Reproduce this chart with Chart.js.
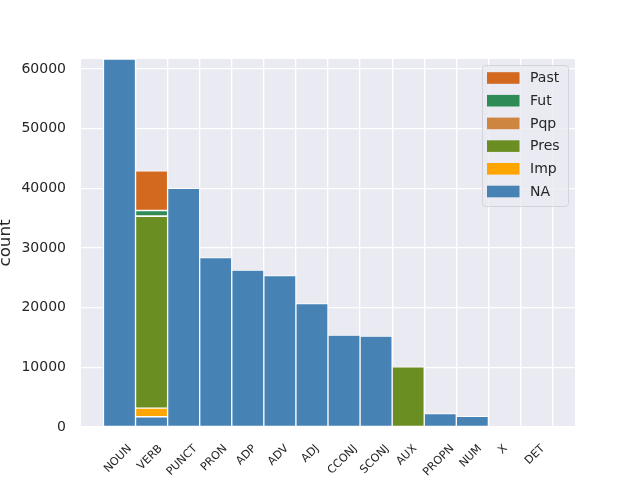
<!DOCTYPE html>
<html>
<head>
<meta charset="utf-8">
<script src="https://cdn.jsdelivr.net/npm/chart.js@4"></script>
<style>
  html, body { margin: 0; padding: 0; background: #fff; }
  canvas { display: block; }
</style>
</head>
<body>
<canvas id="myChart" width="640" height="480"></canvas>
<script>
const categories = ['NOUN','VERB','PUNCT','PRON','ADP','ADV','ADJ','CCONJ','SCONJ','AUX','PROPN','NUM','X','DET'];
const yTicks = [0,10000,20000,30000,40000,50000,60000];
const yMax = 61700;

// stacking order, bottom to top
const naCounts   = [61700,1725,40000,28420,26300,25400,20700,15420,15260,null,2250,1780,null,null];
const impCounts  = [null,1430,null,null,null,null,null,null,null,null,null,null,null,null];
const presCounts = [null,32185,null,null,null,null,null,null,null,10100,null,null,null,null];
const pqpCounts  = [null,60,null,null,null,null,null,null,null,null,null,null,null,null];
const futCounts  = [null,900,null,null,null,null,null,null,null,null,null,null,null,null];
const pastCounts = [null,6630,null,null,null,null,null,null,null,null,null,null,null,null];

const seriesNames  = ['NA','Imp','Pres','Pqp','Fut','Past'];
const seriesValues = [naCounts,impCounts,presCounts,pqpCounts,futCounts,pastCounts];
const seriesColors = ['#4682B4','#FFA500','#6B8E23','#CD853F','#2E8B57','#D2691E'];

const textColor = '#262626';
const fontFamily = "'DejaVu Sans', sans-serif";

const datasets = seriesNames.map((name,k)=>({
  label: name,
  data: seriesValues[k].map((v,i)=>({x:i, y:v})),
  backgroundColor: seriesColors[k],
  borderColor: '#ffffff',
  borderWidth: 1,
  borderSkipped: false,
  barPercentage: 1,
  categoryPercentage: 1
}));

const bgPlugin = {
  id: 'bg',
  beforeDraw(chart){
    const {ctx, chartArea:a} = chart;
    ctx.save();
    ctx.fillStyle = '#ffffff';
    ctx.fillRect(0,0,chart.width,chart.height);
    ctx.fillStyle = '#EAEAF2';
    ctx.fillRect(a.left,a.top,a.right-a.left,a.bottom-a.top);
    ctx.restore();
  }
};

const labelPlugin = {
  id: 'labels',
  afterDraw(chart){
    const {ctx, chartArea:a} = chart;
    const xs = chart.scales.x;
    ctx.save();
    // rotated category labels, centred under each bar
    ctx.font = '11.2px ' + fontFamily;
    ctx.fillStyle = textColor;
    ctx.textAlign = 'center';
    ctx.textBaseline = 'middle';
    const top = a.bottom + 16;
    categories.forEach((c,i)=>{
      const w = ctx.measureText(c).width;
      const h = 11;
      const cx = xs.getPixelForValue(i) - 1.5;
      const cy = top + (w+h)*Math.SQRT1_2/2;
      ctx.save();
      ctx.translate(cx,cy);
      ctx.rotate(-Math.PI/4);
      ctx.fillText(c,0,0);
      ctx.restore();
    });
    // y label
    ctx.save();
    ctx.font = '16.7px ' + fontFamily;
    ctx.textAlign = 'center';
    ctx.textBaseline = 'alphabetic';
    ctx.translate(10,(a.top+a.bottom)/2);
    ctx.rotate(-Math.PI/2);
    ctx.fillText('count',0,0);
    ctx.restore();
    // legend
    const order = [5,4,3,2,1,0];
    const lx = 482, ly = 65, lw = 86, lh = 141;
    ctx.fillStyle = 'rgba(234,234,242,0.8)';
    ctx.strokeStyle = '#d3d3dc';
    ctx.lineWidth = 1;
    ctx.beginPath();
    ctx.roundRect(lx+0.5,ly+0.5,lw,lh,3);
    ctx.fill();
    ctx.stroke();
    ctx.font = '14px ' + fontFamily;
    ctx.textAlign = 'left';
    ctx.textBaseline = 'middle';
    order.forEach((k,r)=>{
      const cy = 78 + r*22.7;
      ctx.fillStyle = seriesColors[k];
      ctx.fillRect(487,cy-5.8,32.5,11.6);
      ctx.fillStyle = textColor;
      ctx.fillText(seriesNames[k],530,cy+0.5);
    });
    ctx.restore();
  }
};

const myChart = new Chart(document.getElementById('myChart'), {
  type: 'bar',
  data: { datasets: datasets },
  options: {
    responsive: false,
    devicePixelRatio: 1,
    animation: false,
    layout: { padding: { top: 59, right: 65, left: 0, bottom: 0 } },
    plugins: { legend: { display: false }, tooltip: { enabled: false } },
    scales: {
      x: {
        type: 'linear',
        min: -1.2,
        max: 14.2,
        stacked: true,
        offset: false,
        grid: { color: '#ffffff', lineWidth: 1.3, drawTicks: false },
        border: { display: false },
        ticks: { display: false },
        afterBuildTicks: s => { s.ticks = categories.map((c,i)=>({value:i})); },
        afterFit: s => { s.height = 53; }
      },
      y: {
        min: 0,
        max: yMax,
        stacked: true,
        grid: { color: '#ffffff', lineWidth: 1.3, drawTicks: false },
        border: { display: false },
        ticks: {
          color: textColor,
          font: { family: fontFamily, size: 14 },
          padding: 15,
          callback: v => String(v)
        },
        afterBuildTicks: s => { s.ticks = yTicks.map(v=>({value:v})); },
        afterFit: s => { s.width = 81; }
      }
    }
  },
  plugins: [bgPlugin, labelPlugin]
});
</script>
</body>
</html>
